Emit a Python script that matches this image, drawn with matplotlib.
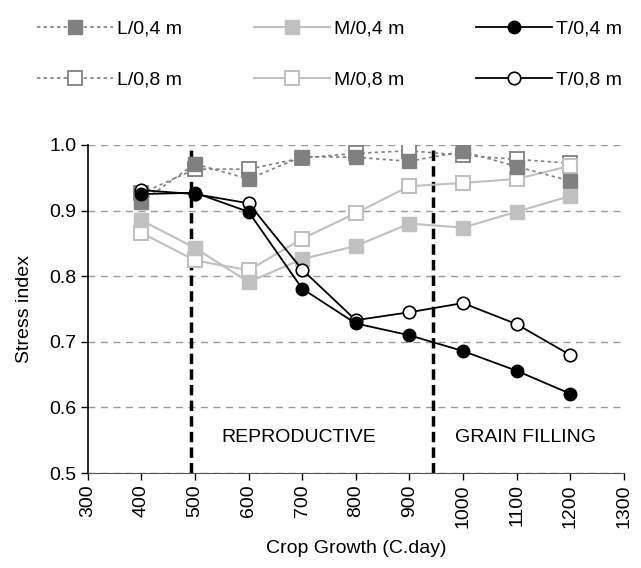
import matplotlib.pyplot as plt

plt.rcParams['font.family'] = ['Liberation Sans', 'DejaVu Sans']

# thermal time of each sampling (C.day)
gdd = [400, 500, 600, 700, 800, 900, 1000, 1100, 1200]

# stress index per treatment / depth
l_04 = [0.913, 0.971, 0.948, 0.982, 0.981, 0.975, 0.990, 0.967, 0.945]
l_08 = [0.926, 0.963, 0.963, 0.980, 0.987, 0.991, 0.984, 0.978, 0.972]
m_04 = [0.885, 0.843, 0.791, 0.826, 0.846, 0.880, 0.874, 0.898, 0.922]
m_08 = [0.866, 0.824, 0.809, 0.857, 0.896, 0.937, 0.942, 0.948, 0.968]
t_04 = [0.925, 0.927, 0.898, 0.781, 0.728, 0.710, 0.686, 0.656, 0.621]
t_08 = [0.931, 0.925, 0.911, 0.810, 0.733, 0.745, 0.759, 0.727, 0.680]

# phase boundaries
stage_bounds = [493, 944]
stage_names = ['REPRODUCTIVE', 'GRAIN FILLING']
stage_text_x = [550, 985]

fs = 14

fig = plt.figure(figsize=(6.41, 5.68), dpi=100)
ax = fig.add_axes([0.137, 0.167, 0.836, 0.578])

dark = '#808080'
light = '#c0c0c0'
ms = 9.5

h_l08, = ax.plot(gdd, l_08, linestyle=(0, (2, 2)), color=dark, lw=1.2,
                 marker='s', ms=ms, mfc='white', mec=dark, mew=1.3, zorder=3)
h_m08, = ax.plot(gdd, m_08, color=light, lw=1.5,
                 marker='s', ms=ms, mfc='white', mec=light, mew=1.5, zorder=3)
h_t08, = ax.plot(gdd, t_08, color='black', lw=1.3,
                 marker='o', ms=9, mfc='white', mec='black', mew=1.2, zorder=4)
h_l04, = ax.plot(gdd, l_04, linestyle=(0, (2, 2)), color=dark, lw=1.2,
                 marker='s', ms=ms, mfc=dark, mec=dark, zorder=3)
h_m04, = ax.plot(gdd, m_04, color=light, lw=1.5,
                 marker='s', ms=ms, mfc=light, mec=light, zorder=3)
h_t04, = ax.plot(gdd, t_04, color='black', lw=1.3,
                 marker='o', ms=9, mfc='black', mec='black', zorder=5)

for xb in stage_bounds:
    ax.axvline(xb, color='black', lw=2.5, linestyle=(0, (3, 1.5)), zorder=2)

for xt, name in zip(stage_text_x, stage_names):
    ax.text(xt, 0.555, name, fontsize=fs, ha='left', va='center')

ax.set_xlim(300, 1300)
ax.set_ylim(0.5, 1.0)
ax.set_xticks(range(300, 1301, 100))
ax.set_yticks([0.5, 0.6, 0.7, 0.8, 0.9, 1.0])
ax.set_yticklabels(['0.5', '0.6', '0.7', '0.8', '0.9', '1.0'])
ax.tick_params(axis='x', labelrotation=90)
ax.tick_params(labelsize=fs, direction='out', length=5, width=1, pad=3)

ax.yaxis.grid(True, linestyle=(0, (5, 4)), color='#999999', lw=1)
ax.set_axisbelow(True)
for side in ['top', 'right']:
    ax.spines[side].set_visible(False)
ax.spines['left'].set_linewidth(1.2)
ax.spines['bottom'].set_color('#555555')

ax.set_xlabel('Crop Growth (C.day)', fontsize=fs, labelpad=9)
ax.set_ylabel('Stress index', fontsize=fs, labelpad=12)

fig.legend([h_l04, h_l08, h_m04, h_m08, h_t04, h_t08],
           ['L/0,4 m', 'L/0,8 m', 'M/0,4 m', 'M/0,8 m', 'T/0,4 m', 'T/0,8 m'],
           ncol=3, loc='upper left', bbox_to_anchor=(0.031, 0.995),
           frameon=False, fontsize=fs, handlelength=3.9, handletextpad=0.2,
           columnspacing=3.7, labelspacing=1.7)

fig.savefig('out.png', dpi=100)
